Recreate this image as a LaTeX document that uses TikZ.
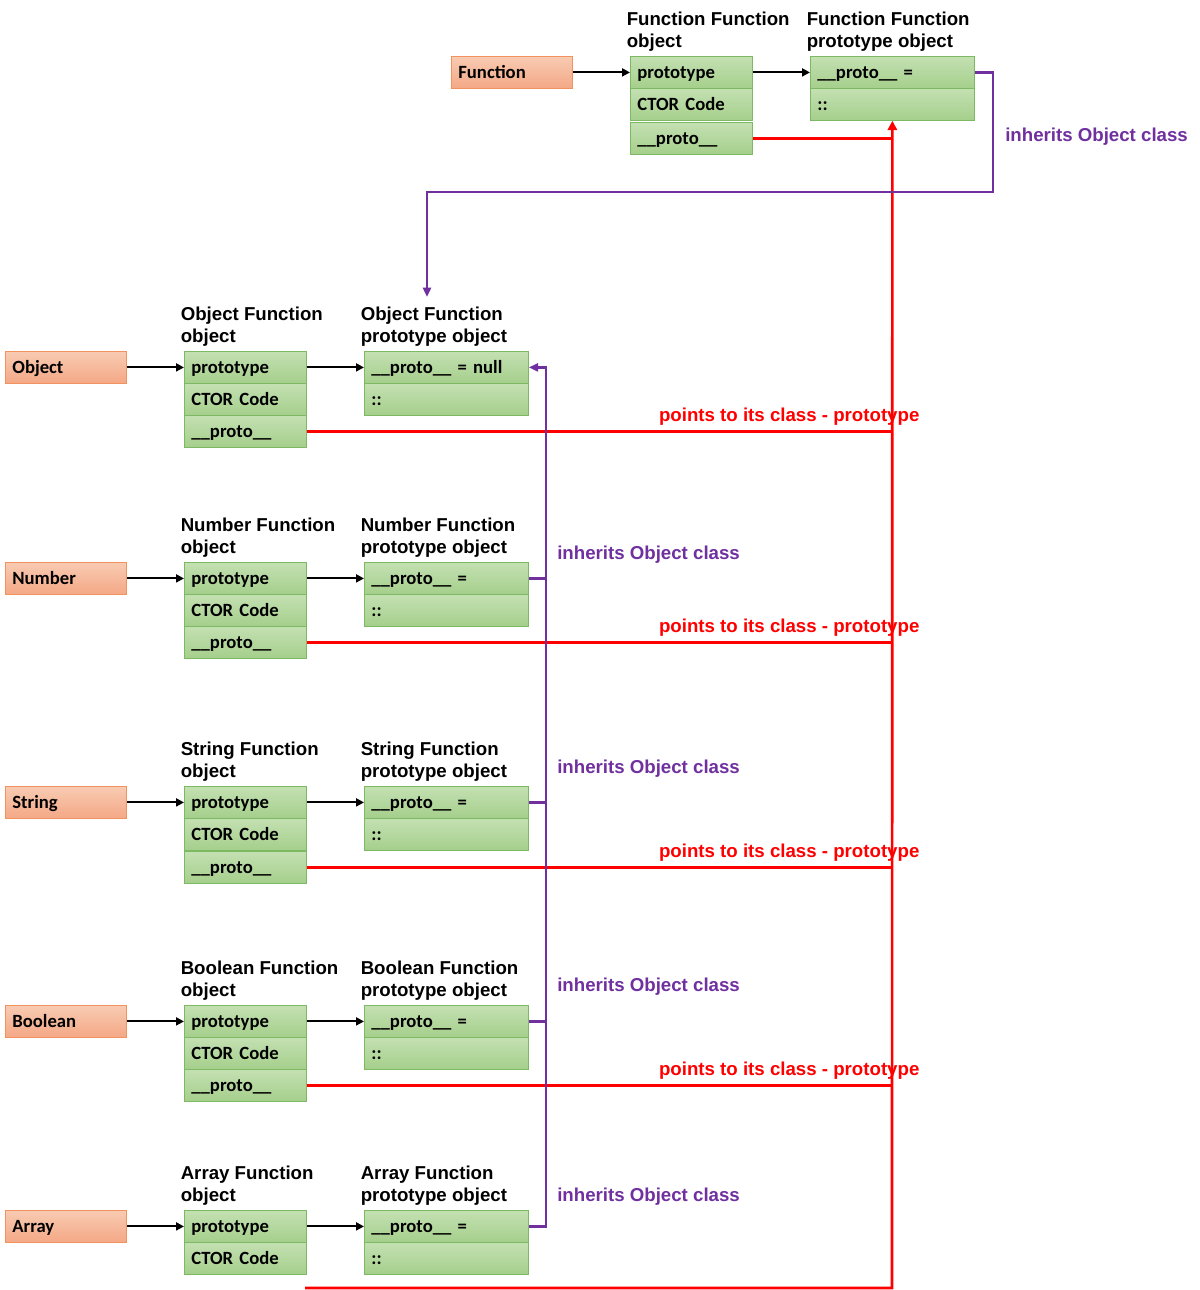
\documentclass[tikz,border=0pt]{standalone}
\usepackage{fontspec}
\setmainfont{Liberation Sans}
\newfontfamily\cellfont{Carlito}
\usetikzlibrary{arrows.meta}
\definecolor{ofillA}{HTML}{F8CBB2}
\definecolor{ofillB}{HTML}{F4A886}
\definecolor{oline}{HTML}{F2935F}
\definecolor{gfillA}{HTML}{C3E0B2}
\definecolor{gfillB}{HTML}{A5CF8B}
\definecolor{gline}{HTML}{7DB963}
\definecolor{ipurple}{HTML}{7030A0}
\definecolor{pred}{HTML}{FF0000}
\newcommand{\clsrow}[3]{%
  \node[ocls] (#1) at (5,#2) {#1};
  \node[gcell] (#1P) at (184,#2) {prototype};
  \node[gcell] (#1C) at (184,#2+32) {CTOR Code};
  \node[gwide] (#1Q) at (364,#2) {#3};
  \node[gwide] (#1D) at (364,#2+32) {::};
  \node[hdr] (#1H) at (180.5,#2-44.5) {#1 Function\\object};
  \node[hdr] (#1G) at (360.5,#2-44.5) {#1 Function\\prototype object};
  \draw[blk] (#1.east) -- (#1P.west);
  \draw[blk] (#1P.east) -- (#1Q.west);
}
\begin{document}
\begin{tikzpicture}[x=0.75pt,y=-0.75pt,
  cellbase/.style={anchor=north west, minimum height=24pt, inner xsep=5.25pt, inner ysep=0pt,
    align=left, text height=11.3pt, text depth=1.7pt, line width=0.6pt,
    font=\cellfont\bfseries\fontsize{14}{16}\selectfont},
  ocls/.style={cellbase, draw=oline, top color=ofillA, bottom color=ofillB, text width=80.25pt},
  gcell/.style={cellbase, draw=gline, top color=gfillA, bottom color=gfillB, text width=81pt},
  gwide/.style={cellbase, draw=gline, top color=gfillA, bottom color=gfillB, text width=112.5pt},
  hdr/.style={anchor=north west, inner sep=0pt, align=left, font=\bfseries\fontsize{14}{17}\selectfont},
  inh/.style={anchor=west, inner sep=0pt, text=ipurple, font=\bfseries\fontsize{14}{17}\selectfont},
  ptr/.style={anchor=base west, inner sep=0pt, text=pred, font=\bfseries\fontsize{14}{17}\selectfont},
  blk/.style={line width=1.5pt, -{Triangle[length=6pt,width=6pt]}},
  redl/.style={pred, line width=2pt},
  purl/.style={ipurple, line width=1.8pt}
]
\useasboundingbox[fill=white] (0,0) rectangle (1200,1290);

% Function row
\node[ocls] (Function) at (451,56) {Function};
\node[gcell] (FuncP) at (630,56) {prototype};
\node[gcell] (FuncC) at (630,88) {CTOR Code};
\node[gcell] (FuncR) at (630,122) {\_\_proto\_\_};
\node[gwide] (FuncQ) at (810,56) {\_\_proto\_\_ =};
\node[gwide] (FuncD) at (810,88) {::};
\node[hdr] (FuncH) at (626.5,11.5) {Function Function\\object};
\node[hdr] (FuncG) at (806.5,11.5) {Function Function\\prototype object};
\draw[blk] (Function.east) -- (FuncP.west);
\draw[blk] (FuncP.east) -- (FuncQ.west);

% class rows
\clsrow{Object}{351}{\_\_proto\_\_ = null}
\node[gcell] (ObjectR) at (184,415) {\_\_proto\_\_};
\clsrow{Number}{562}{\_\_proto\_\_ =}
\node[gcell] (NumberR) at (184,626) {\_\_proto\_\_};
\clsrow{String}{786}{\_\_proto\_\_ =}
\node[gcell] (StringR) at (184,851) {\_\_proto\_\_};
\clsrow{Boolean}{1005}{\_\_proto\_\_ =}
\node[gcell] (BooleanR) at (184,1069) {\_\_proto\_\_};
\clsrow{Array}{1210}{\_\_proto\_\_ =}

% red: __proto__ links to Function.prototype
\coordinate (redstart) at (305,1288);
\coordinate (redcorner) at (892,1288);
\draw[redl, -{Triangle[length=7pt,width=7pt]}] (redstart) -- (redcorner) -- (FuncD.south);
\draw[redl] (FuncR.east) -- (FuncR.east -| FuncD.south);
\foreach \r in {Object,Number,String,Boolean}{
  \draw[redl] (\r R.east) -- (\r R.east -| FuncD.south);
  \node[ptr] (\r L) at ([shift={(352,-9.5)}]\r R.east) {points to its class - prototype};
}

% purple: Function.prototype inherits Object
\coordinate (pjoin) at (993,192);
\coordinate (pend) at (427,297);
\draw[purl, -{Triangle[length=7pt,width=6pt]}] (FuncQ.east) -| (pjoin) -| (pend);
\node[inh] (FuncI) at (1005,137) {inherits Object class};

% purple trunk
\coordinate (ptrunk) at (546,0);
\draw[purl, -{Triangle[length=7pt,width=6pt]}] (ArrayQ.east) -| (ptrunk |- ObjectQ.east) -- (ObjectQ.east);
\foreach \r in {Number,String,Boolean}{
  \draw[purl] (\r Q.east) -- (\r Q.east -| ptrunk);
}
\node[inh] (NumberI) at (557,555) {inherits Object class};
\node[inh] (StringI) at (557,769) {inherits Object class};
\node[inh] (BooleanI) at (557,987) {inherits Object class};
\node[inh] (ArrayI) at (557,1197) {inherits Object class};
\end{tikzpicture}
\end{document}
